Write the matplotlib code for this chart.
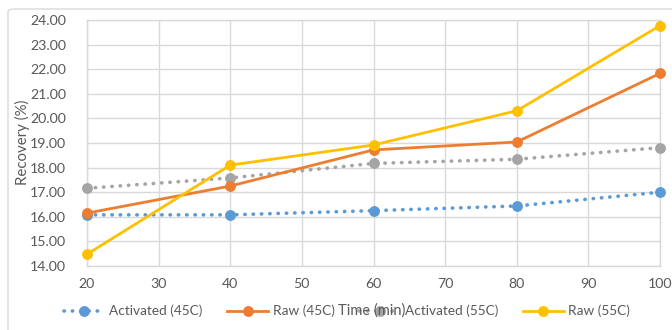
import matplotlib
matplotlib.use("Agg")
import matplotlib.pyplot as plt
from matplotlib.patches import FancyBboxPatch

plt.rcParams['font.family'] = ['Lato', 'DejaVu Sans']

# Data
time_min = [20, 40, 60, 80, 100]
activated_45 = [16.08, 16.08, 16.25, 16.44, 17.00]
raw_45 = [16.15, 17.25, 18.72, 19.04, 21.83]
activated_55 = [17.16, 17.58, 18.17, 18.34, 18.81]
raw_55 = [14.48, 18.10, 18.92, 20.31, 23.77]

series_labels = ["Activated (45C)", "Raw (45C)", "Activated (55C)", "Raw (55C)"]
x_label = "Time (min)"
y_label = "Recovery (%)"

BLUE = "#5B9BD5"
ORANGE = "#ED7D31"
GREY = "#A5A5A5"
YELLOW = "#FFC000"
TEXT = "#595959"
GRID = "#D9D9D9"

fig = plt.figure(figsize=(6.72, 3.3), dpi=100)

# chart frame
frame = FancyBboxPatch((8 / 672, -0.05), 1.2, 1 - 9 / 330 + 0.05,
                       boxstyle="round,pad=0,rounding_size=0.01",
                       transform=fig.transFigure, fill=False,
                       edgecolor=GRID, linewidth=1.0)
fig.patches.append(frame)

ax = fig.add_axes([87 / 672, 1 - 266 / 330, (660 - 87) / 672, (266 - 20) / 330])

dot = (0, (0.1, 2.2))
lw = 2.6
ms = 6.8
l1, = ax.plot(time_min, activated_45, color=BLUE, lw=lw, ls=dot,
              dash_capstyle='round', marker='o', ms=ms, label=series_labels[0], zorder=3)
l2, = ax.plot(time_min, raw_45, color=ORANGE, lw=2.0, marker='o', ms=ms,
              label=series_labels[1], zorder=4)
l3, = ax.plot(time_min, activated_55, color=GREY, lw=lw, ls=dot,
              dash_capstyle='round', marker='o', ms=ms, label=series_labels[2], zorder=3)
l4, = ax.plot(time_min, raw_55, color=YELLOW, lw=2.0, marker='o', ms=ms,
              label=series_labels[3], zorder=5)
for ln in (l1, l2, l3, l4):
    ln.set_clip_on(False)

ax.set_xlim(20, 100)
ax.set_ylim(14, 24)
ax.set_xticks(range(20, 101, 10))
ax.set_yticks(range(14, 25))
ax.set_yticklabels([f"{v:.2f}" for v in range(14, 25)])
ax.grid(True, color=GRID, lw=1.0)
ax.set_axisbelow(True)
for s in ax.spines.values():
    s.set_color(GRID)
    s.set_linewidth(1.0)
ax.tick_params(length=0, labelsize=10.2, labelcolor=TEXT)
ax.tick_params(axis='y', pad=15)
ax.tick_params(axis='x', pad=9)

fig.text(22 / 672, 1 - 142 / 330, y_label, rotation=90, ha='center', va='center',
         fontsize=10.8, color=TEXT)

leg = fig.legend(handles=[l1, l2, l3, l4], loc='center', ncol=4,
                 bbox_to_anchor=(347 / 672, 1 - 311 / 330), frameon=False,
                 fontsize=9.8, handlelength=3.0, handletextpad=0.35,
                 columnspacing=1.8, borderaxespad=0)
for t in leg.get_texts():
    t.set_color(TEXT)

fig.text(372 / 672, 1 - 311 / 330, x_label, ha='center', va='center',
         fontsize=10.5, color=TEXT, zorder=10)

fig.savefig("out.png", dpi=100)
